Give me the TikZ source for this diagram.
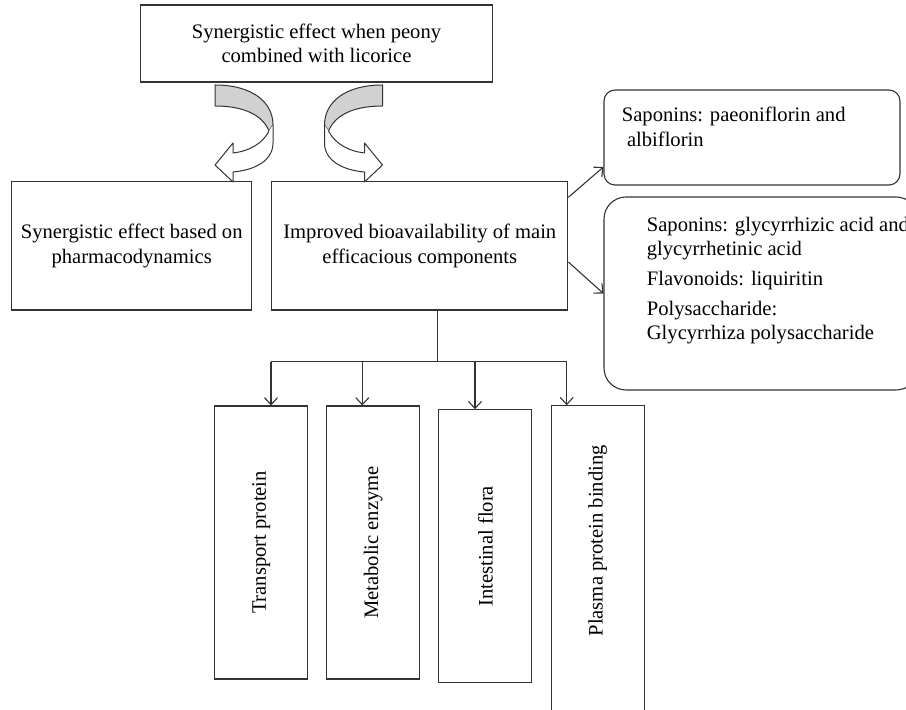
\documentclass[tikz,border=0pt]{standalone}
\usepackage{fontspec}
\setmainfont{Liberation Serif}
\usetikzlibrary{
        arrows.meta,
        positioning
    }
\tikzset{>={Straight Barb[length=3.5pt,width=6.5pt]}}
\tikzset{
    txt/.style={font=\fontsize{10.3}{12.2}\selectfont},
    box/.style={draw=black!80,line width=0.55pt,align=center,inner sep=2pt,txt},
    bar/.style={box,minimum width=46.5pt,minimum height=136.5pt},
    roundbox/.style={box,rounded corners=#1},
    ribbon/.style={draw=black!80,line width=0.5pt,line join=round},
    link/.style={draw=black!80,line width=0.55pt}
}

\begin{document}
\begin{tikzpicture}[x=0.5pt,y=-0.5pt]
                    \useasboundingbox (0,0) rectangle (906,710);
                    \clip (0,0) rectangle (906,710);
                    % boxes
                    \node[box,minimum width=175.8pt,minimum height=38.5pt] (syn) at (316.5,43.5)
                        {Synergistic effect when peony\\combined with licorice};
                    \node[box,minimum width=120pt,minimum height=64.2pt] (pd) at (131.7,245.8)
                        {Synergistic effect based on\\pharmacodynamics};
                    \node[box,minimum width=148pt,minimum height=64.2pt] (bio) [right=9.5pt of pd]
                        {Improved bioavailability of main\\efficacious components};
                    \node[roundbox=5.5pt,minimum width=148pt,minimum height=47.5pt,
                        label={[anchor=north west,align=left,inner sep=0pt,txt,xshift=9pt,yshift=-8.8pt]north west:{Saponins: paeoniflorin and\\\hspace*{.25em}albiflorin}}]
                        (sap1) at (752,137.5) {};
                    \node[roundbox=11pt,minimum width=157pt,minimum height=96.5pt,
                        label={[anchor=north west,align=left,inner sep=0pt,txt,xshift=21.5pt,yshift=-10pt]north west:{Saponins: glycyrrhizic acid and\\glycyrrhetinic acid\\[2.8pt]Flavonoids: liquiritin\\[2.8pt]Polysaccharide:\\Glycyrrhiza polysaccharide}}]
                        (sap2) at (761,293.5) {};
                    \node[bar] (tp) at (261.2,542.5) {\rotatebox{90}{Transport protein}};
                    \node[bar] (me) [right=9pt of tp] {\rotatebox{90}{Metabolic enzyme}};
                    \node[bar] (inf) [right=9pt of me,yshift=-1.9pt] {\rotatebox{90}{Intestinal flora}};
                    \node[bar,minimum height=162pt] (pb) [right=9.15pt of inf.north east,anchor=north west,yshift=2pt]
                        {\rotatebox{90}{\hspace*{27pt}Plasma protein binding}};

                    % ribbon arrows
                    \filldraw[ribbon,fill=black!18] (215,85) .. controls (252,85) and (273,102) .. (273,125)
                        -- (269,131) .. controls (262,114) and (242,106) .. (215,106) -- cycle;
                    \filldraw[ribbon,fill=white] (269,131) .. controls (263,143) and (250,151) .. (233,153)
                        -- (233,143) -- (215,165) -- (233,182) -- (233,172)
                        .. controls (256,170) and (273,160) .. (273,143) -- (273,125);
                    \begin{scope}[shift={(597.5,0)},xscale=-1]
                        \filldraw[ribbon,fill=black!18] (215,85) .. controls (252,85) and (273,102) .. (273,125)
                            -- (269,131) .. controls (262,114) and (242,106) .. (215,106) -- cycle;
                        \filldraw[ribbon,fill=white] (269,131) .. controls (263,143) and (250,151) .. (233,153)
                            -- (233,143) -- (215,165) -- (233,182) -- (233,172)
                            .. controls (256,170) and (273,160) .. (273,143) -- (273,125);
                    \end{scope}

                    % connectors
                    \draw[link,->] ([yshift=-8.15pt]bio.north east) -- ([yshift=-14.75pt]sap1.west);
                    \draw[link,->] ([yshift=-8.1pt]bio.east) -- (sap2.west);
                    \coordinate (bus) at (437.3,361.7);
                    \coordinate (d1) at (271,361.7);
                    \coordinate (d2) at (362.3,361.7);
                    \coordinate (d3) at (475,361.7);
                    \coordinate (d4) at (566.7,361.7);
                    \draw[link] (bio.south -| bus) -- (bus);
                    \draw[link] (d1) -- (d4);
                    \draw[link,->] (d1) -- (d1 |- tp.north);
                    \draw[link,->] (d2) -- (d2 |- me.north);
                    \draw[link,->] (d3) -- (d3 |- inf.north);
                    \draw[link,->] (d4) -- (d4 |- pb.north);
\end{tikzpicture}
\end{document}
